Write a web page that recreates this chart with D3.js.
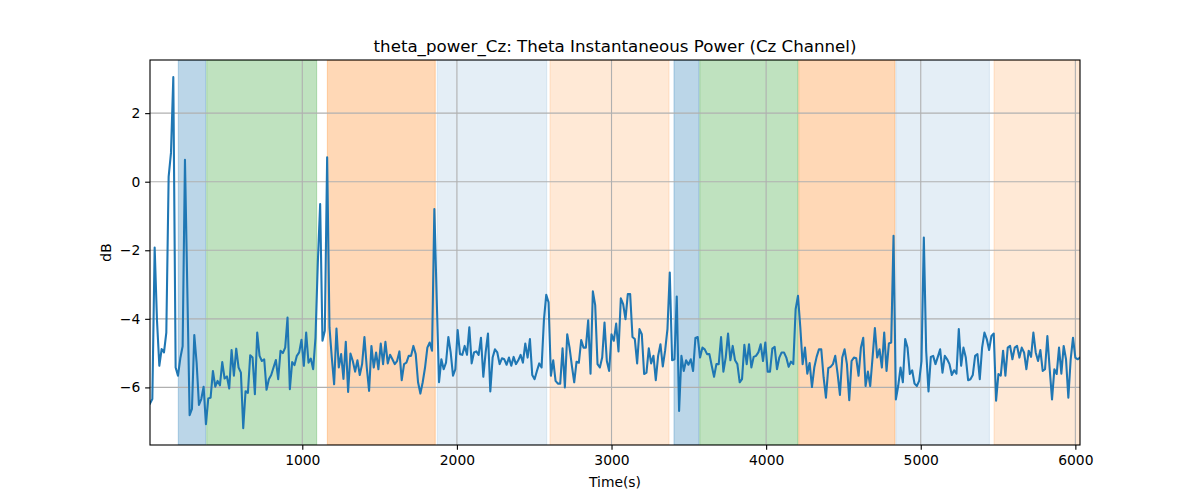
<!DOCTYPE html>
<html>
<head>
<meta charset="utf-8">
<script src="https://cdn.jsdelivr.net/npm/d3@7"></script>
<style>
  html, body { margin: 0; padding: 0; background: #fff; }
  svg { display: block; font-family: "DejaVu Sans", sans-serif; }
</style>
</head>
<body>
<svg id="chart" width="1200" height="500"></svg>
<script>
// ---------------- data ----------------
const title = "theta_power_Cz: Theta Instantaneous Power (Cz Channel)";
const xLabel = "Time(s)";
const yLabel = "dB";
const timeStart = 15;
const timeEnd = 6030;
const xTicks = [1000, 2000, 3000, 4000, 5000, 6000];
const yTicks = [-6, -4, -2, 0, 2];
const yDomain = [-7.68, 3.55];

// shaded phases (seconds)
const phaseStart = [198, 382, 1162, 1873, 2602, 3404, 3571, 4211, 4839, 5474];
const phaseEnd   = [375, 1093, 1860, 2581, 3372, 3566, 4206, 4833, 5444, 6030];
const phaseKind  = ["A", "B", "C", "D", "E", "A", "B", "C", "D", "E"];

// theta power (dB), evenly sampled from timeStart to timeEnd
const powerDb = [
  -6.47,-6.34,-1.92,-4.05,-5.37,-4.88,-4.98,-4.40,0.15,0.84,3.05,-5.42,-5.66,-5.15,-4.80,0.64,-3.1,
  -6.81,-6.63,-4.47,-5.28,-6.51,-6.34,-5.98,-7.07,-6.32,-6.30,-5.52,-5.98,-5.81,-5.94,-5.26,-5.74,-5.68,-6.03,-4.91,-5.66,-4.87,-5.42,-5.57,-7.19,-6.11,-6.16,-5.06,-5.13,-6.2,-4.40,-5.08,-5.23,-5.18,-6.07,-5.76,-5.64,-5.42,-5.2,-5.76,-4.93,-5.0,-4.84,-3.96,-6.05,-5.26,-5.35,-5.08,-4.98,-4.61,-5.37,-4.40,-5.28,-5.16,-5.47,-4.55,-2.36,-0.65,-4.64,-4.35,0.71,-4.25,-5.13,-5.91,-4.28,-5.42,-5.03,-5.75,-4.67,-6.13,-5.01,-5.23,-5.54,-5.21,-5.64,-5.32,-4.53,-5.42,-6.10,-4.79,-5.42,-4.98,-5.47,-4.72,-5.32,-4.67,-5.30,-5.05,-5.18,-5.32,-5.23,-4.95,-5.79,-5.32,-5.28,-5.08,-5.08,-4.79,-5.03,-5.85,-6.18,-5.85,-5.42,-4.84,-4.69,-4.93,-0.8,
  -3.4,-5.85,-5.18,-5.47,-5.28,-4.53,-4.98,-5.66,-5.47,-4.33,-5.03,-5.05,-4.79,-5.05,-4.25,-5.30,-4.98,-4.95,-5.05,-4.55,-5.69,-4.98,-4.43,-6.12,-5.13,-4.89,-4.98,-5.32,-5.15,-5.18,-5.34,-5.13,-5.37,-5.11,-5.32,-5.21,-5.05,-5.28,-4.72,-5.13,-4.59,-5.64,-5.76,-5.52,-5.30,-5.42,-4.04,-3.30,-3.52,-5.66,-5.21,-5.81,-5.89,-5.89,-4.86,-6.0,-4.45,-4.84,-5.37,-5.85,-5.25,-5.28,-4.62,-4.84,-4.84,-4.04,-5.6,
  -3.2,-3.6,
  -5.32,-5.42,-5.13,-4.11,-5.23,-5.52,-4.45,-4.64,-4.14,-4.95,-3.40,-3.57,-4.01,-3.28,-3.28,-4.53,-4.59,-5.30,-4.30,-4.45,-5.61,-5.57,-4.86,-5.30,-5.08,-5.79,-5.08,-4.74,-5.39,-4.93,-4.30,-2.65,-5.21,-5.18,-3.35,-6.69,-5.08,-5.52,-5.21,-5.34,-5.18,-5.52,-4.56,-4.53,-5.13,-4.84,-4.89,-5.03,-5.03,-5.37,-5.69,-5.32,-5.32,-4.53,-5.54,-5.13,-4.43,-5.21,-4.79,-5.21,-5.32,-5.85,-5.76,-4.76,-5.32,
  -4.74,-5.42,-5.11,-5.08,-4.98,-4.74,-5.23,-4.69,-5.54,-5.54,-4.87,-4.82,-5.47,-5.13,-4.98,-4.98,-5.13,-5.40,-5.25,-5.32,-3.72,-3.33,-4.25,-5.32,-4.84,-5.60,-5.29,-5.99,-5.42,-5.11,-4.89,-4.89,-5.71,-6.30,-5.44,-5.40,-5.32,-5.08,-5.60,-6.22,-5.13,-4.89,-5.32,-6.37,-5.23,-5.13,-5.15,-5.66,-4.84,-4.55,-5.96,-5.54,-5.96,-5.13,-4.27,-5.13,-4.89,-5.42,-4.40,-5.52,-4.72,-4.69,-1.58,-6.35,-5.96,-5.42,-5.85,-4.59,-4.84,-5.61,-5.50,-5.89,-5.96,-5.81,-5.23,-1.63,-4.93,-6.12,-5.11,-5.08,-5.32,-5.11,-4.89,-5.57,-5.08,-5.18,-5.32,-5.64,-5.50,-5.60,-4.30,-5.37,-4.84,-5.13,-5.79,-5.76,-5.64,-5.08,-5.03,-5.76,-4.84,-4.40,-4.59,-4.91,-4.50,-4.43,-6.39,-5.61,-5.66,-4.93,-5.66,-4.84,-4.79,-5.18,-4.84,-4.79,-5.13,-4.84,-4.98,-5.47,-4.93,-5.11,-4.40,-4.98,-5.23,-4.91,-5.52,-5.47,-4.50,-5.47,-6.35,-5.47,-5.61,-4.84,-5.60,-4.79,-5.18,-6.30,-5.18,-4.55,-5.13,-5.18,-5.13
];

// ---------------- drawing ----------------
const W = 1200, H = 500;
const m = { left: 150, right: 120, top: 60, bottom: 55 };
const iw = W - m.left - m.right, ih = H - m.top - m.bottom;
const PT = 100 / 72; // matplotlib points -> px at 100 dpi

const phaseStyle = {
  A: { color: "#1f77b4", opacity: 0.3 },
  B: { color: "#2ca02c", opacity: 0.3 },
  C: { color: "#ff7f0e", opacity: 0.3 },
  D: { color: "#1f77b4", opacity: 0.12 },
  E: { color: "#ff7f0e", opacity: 0.17 }
};

const svg = d3.select("#chart");
const g = svg.append("g").attr("transform", `translate(${m.left},${m.top})`);

const x = d3.scaleLinear().domain([timeStart, timeEnd]).range([0, iw]);
const y = d3.scaleLinear().domain(yDomain).range([ih, 0]);

const step = (timeEnd - timeStart) / (powerDb.length - 1);
const points = powerDb.map((v, i) => ({ t: timeStart + i * step, v }));

const defs = svg.append("defs");
defs.append("clipPath").attr("id", "clip")
  .append("rect").attr("width", iw).attr("height", ih);

const plot = g.append("g").attr("clip-path", "url(#clip)");

// spans
const phases = phaseStart.map((s, i) => ({ s, e: phaseEnd[i], k: phaseKind[i] }));
plot.selectAll("rect.span").data(phases).join("rect")
  .attr("class", "span")
  .attr("x", d => x(d.s))
  .attr("width", d => x(d.e) - x(d.s))
  .attr("y", 0).attr("height", ih)
  .attr("fill", d => phaseStyle[d.k].color)
  .attr("fill-opacity", d => phaseStyle[d.k].opacity)
  .attr("stroke", d => phaseStyle[d.k].color)
  .attr("stroke-opacity", d => phaseStyle[d.k].opacity)
  .attr("stroke-width", 1);

// grid
plot.selectAll("line.gx").data(xTicks).join("line")
  .attr("x1", d => x(d)).attr("x2", d => x(d))
  .attr("y1", 0).attr("y2", ih)
  .attr("stroke", "#b0b0b0").attr("stroke-width", 0.8 * PT);
plot.selectAll("line.gy").data(yTicks).join("line")
  .attr("y1", d => y(d)).attr("y2", d => y(d))
  .attr("x1", 0).attr("x2", iw)
  .attr("stroke", "#b0b0b0").attr("stroke-width", 0.8 * PT);

// line
plot.append("path").datum(points)
  .attr("fill", "none")
  .attr("stroke", "#1f77b4")
  .attr("stroke-width", 1.5 * PT)
  .attr("stroke-linejoin", "round")
  .attr("stroke-linecap", "square")
  .attr("d", d3.line().x(d => x(d.t)).y(d => y(d.v)));

// axes
const fmt = d => (d < 0 ? "\u2212" + Math.abs(d) : String(d));
const tickLen = 3.5 * PT, tickPad = 3.5 * PT;
const xAxis = g.append("g").attr("transform", `translate(0,${ih})`)
  .call(d3.axisBottom(x).tickValues(xTicks).tickFormat(fmt).tickSizeOuter(0).tickSize(tickLen).tickPadding(tickPad));
const yAxis = g.append("g")
  .call(d3.axisLeft(y).tickValues(yTicks).tickFormat(fmt).tickSizeOuter(0).tickSize(tickLen).tickPadding(tickPad));
[xAxis, yAxis].forEach(a => {
  a.select(".domain").remove();
  a.selectAll("line").attr("stroke", "#000").attr("stroke-width", 0.8 * PT);
  a.selectAll("text").attr("font-size", (10 * PT) + "px").attr("fill", "#000")
    .attr("font-family", "DejaVu Sans, sans-serif");
});

// frame
g.append("rect").attr("width", iw).attr("height", ih)
  .attr("fill", "none").attr("stroke", "#000").attr("stroke-width", 0.8 * PT);

// labels
svg.append("text").attr("x", m.left + iw / 2).attr("y", 52)
  .attr("text-anchor", "middle").attr("font-size", (12 * PT) + "px").text(title);
svg.append("text").attr("x", m.left + iw / 2).attr("y", 487)
  .attr("text-anchor", "middle").attr("font-size", (10 * PT) + "px").text(xLabel);
svg.append("text").attr("transform", `translate(111,${m.top + ih / 2}) rotate(-90)`)
  .attr("text-anchor", "middle").attr("font-size", (10 * PT) + "px").text(yLabel);
</script>
</body>
</html>
